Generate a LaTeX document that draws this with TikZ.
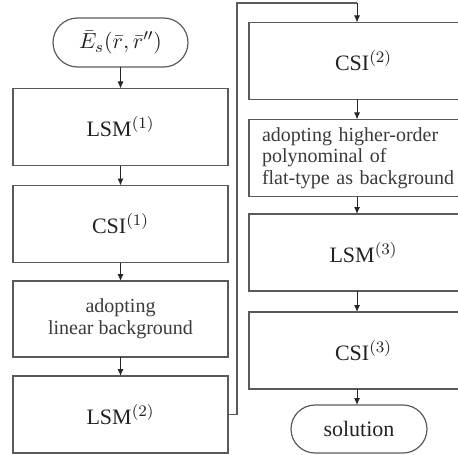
\documentclass[tikz,border=0pt]{standalone}
\usepackage{fontspec}
\setmainfont{Liberation Serif}
\usetikzlibrary{arrows.meta,shapes.misc}
\definecolor{linecol}{HTML}{5A5A5A}
\definecolor{txtcol}{HTML}{222222}
\definecolor{softtxt}{HTML}{3A3A3A}
\begin{document}
\begin{tikzpicture}[x=0.5pt,y=-0.5pt,
  every node/.style={inner sep=0pt,outer sep=0pt},
  stepbox/.style={draw=linecol,line width=0.6pt,rectangle,text=txtcol,font=\fontsize{11}{13}\selectfont,align=center},
  leftbox/.style={stepbox,minimum width=107.5pt,minimum height=38.5pt},
  rightbox/.style={stepbox,minimum width=114.5pt,minimum height=38.5pt},
  terminal/.style={draw=linecol,line width=0.6pt,rounded rectangle,text=txtcol,font=\fontsize{11}{13}\selectfont},
  flow/.style={draw=black!85,line width=0.5pt,-{Latex[length=3.5pt,width=3pt]}},
  link/.style={draw=linecol,line width=0.6pt}]
\useasboundingbox (0,0) rectangle (458,454);
\clip (0,0) rectangle (458,454);
% left column
\node[terminal,minimum width=67.5pt,minimum height=24.5pt] (start) at (120.5,42.5) {$\bar{E}_s(\bar{r},\bar{r}'')$};
\node[leftbox] (lsm1) at (120.5,127) {LSM$^{(1)}$};
\node[leftbox] (csi1) at (120.5,224) {CSI$^{(1)}$};
\node[leftbox,minimum height=38pt,text=softtxt,font=\fontsize{10}{11}\selectfont] (lin) at (120.5,319) {adopting\\linear background};
\node[leftbox] (lsm2) at (120.5,414.5) {LSM$^{(2)}$};
% right column
\coordinate (rx) at (357,0);
\node[rightbox] (csi2) at (363.5,61) {CSI$^{(2)}$};
\node[rightbox,text=softtxt,font=\fontsize{10}{10.8}\selectfont,align=left,text width=101.5pt,inner xsep=6.5pt] (high) at (363.5,158) {adopting higher-order\\polynominal of\\flat-type as background};
\node[rightbox] (lsm3) at (363.5,252.5) {LSM$^{(3)}$};
\node[rightbox] (csi3) at (363.5,350.5) {CSI$^{(3)}$};
\node[terminal,minimum width=68pt,minimum height=24pt] (sol) at (359,429) {solution};
% connectors
\draw[flow] (start) -- (lsm1);
\draw[flow] (lsm1) -- (csi1);
\draw[flow] (csi1) -- (lin);
\draw[flow] (lin) -- (lsm2);
\coordinate (k1) at (237,3);
\draw[link] (lsm2.east) -| (k1) -- (k1 -| rx);
\draw[flow] (k1 -| rx) -- (csi2.north -| rx);
\draw[flow] (csi2.south -| rx) -- (high.north -| rx);
\draw[flow] (high.south -| rx) -- (lsm3.north -| rx);
\draw[flow] (lsm3.south -| rx) -- (csi3.north -| rx);
\draw[flow] (csi3.south -| rx) -- (sol.north -| rx);
\end{tikzpicture}
\end{document}
